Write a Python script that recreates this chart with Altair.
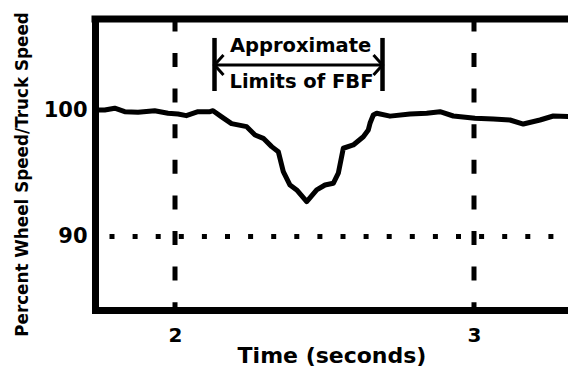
import altair as alt
import pandas as pd

# ---- data ----
time_s = [1.733, 1.7649, 1.7983, 1.8318, 1.8763, 1.9321, 1.9766, 2.0100, 2.0378, 2.0769,
          2.1171, 2.1271, 2.1548, 2.1890, 2.2398, 2.2676, 2.2953, 2.3234, 2.3455, 2.3622,
          2.3846, 2.4070, 2.4405, 2.4739, 2.5017, 2.5294, 2.5462, 2.5629, 2.5963, 2.6298,
          2.6465, 2.6522, 2.6632, 2.6746, 2.7191, 2.7860, 2.8418, 2.8863, 2.9308, 3.0033,
          3.0645, 3.1204, 3.1649, 3.2207, 3.2652, 3.341]
pct_speed = [100.08, 100.08, 100.22, 99.94, 99.90, 100.02, 99.82, 99.76, 99.63, 99.94,
             99.94, 100.02, 99.55, 98.99, 98.75, 98.09, 97.82, 97.16, 96.76, 95.16,
             94.10, 93.71, 92.77, 93.71, 94.10, 94.24, 95.04, 97.03, 97.29, 97.95,
             98.49, 99.02, 99.68, 99.82, 99.59, 99.76, 99.82, 99.94, 99.60, 99.42,
             99.36, 99.28, 98.96, 99.28, 99.60, 99.55]
x_ticks = [2, 3]
y_ticks = [90, 100]
vertical_marks = [2, 3]
threshold = [90]
fbf_limits = [2.1321, 2.694]
fbf_bar_range = [101.59, 105.82]
fbf_arrow_level = [103.67]
label_texts = ["Approximate", "Limits of FBF"]
label_x = [2.42, 2.423]
label_y = [104.70, 101.81]

X_DOMAIN = [1.7324, 3.3144]
Y_DOMAIN = [84.14, 107.33]
W, H = 473, 291
FONT = "DejaVu Sans"

xs = alt.Scale(domain=X_DOMAIN, nice=False, zero=False)
ys = alt.Scale(domain=Y_DOMAIN, nice=False, zero=False)

x_axis = alt.Axis(
    values=x_ticks, title="Time (seconds)", ticks=False, tickSize=0, grid=False,
    labelFontSize=20, labelPadding=31, labelBaseline="alphabetic",
    titleFontSize=22, titleY=52, titleBaseline="alphabetic",
    domainWidth=7, domainCap="square", format="d")
y_axis = alt.Axis(
    values=y_ticks, title="Percent Wheel Speed/Truck Speed", ticks=False, tickSize=0,
    grid=False, labelFontSize=21, labelPadding=8,
    titleFontSize=16.8, titleX=-68, titleY=155, titleAngle=-90,
    titleAlign="center", titleBaseline="alphabetic",
    domainWidth=7, domainCap="square", format="d")


def X(field="t"):
    return alt.X(f"{field}:Q", scale=xs, axis=x_axis)


def Y(field="v"):
    return alt.Y(f"{field}:Q", scale=ys, axis=y_axis)


curve_df = pd.DataFrame({"t": time_s, "v": pct_speed})
curve = alt.Chart(curve_df).mark_line(
    color="black", strokeWidth=5, strokeJoin="round", strokeCap="round", clip=True
).encode(x=X(), y=Y())

vdf = pd.DataFrame({"t": vertical_marks})
vlines = alt.Chart(vdf).mark_rule(
    color="black", strokeWidth=5, strokeDash=[14, 21.6], strokeDashOffset=1.6
).encode(x=X(), y=alt.value(0), y2=alt.value(H))

hdf = pd.DataFrame({"v": threshold})
hline = alt.Chart(hdf).mark_rule(
    color="black", strokeWidth=5, strokeDash=[5, 18.1], strokeDashOffset=8.6
).encode(y=Y(), x=alt.value(0), x2=alt.value(W))

top_border = alt.Chart(pd.DataFrame({"a": [0]})).mark_rule(
    color="black", strokeWidth=7, strokeCap="square"
).encode(x=alt.value(0), x2=alt.value(W), y=alt.value(0))

bars_df = pd.DataFrame({"t": fbf_limits,
                        "v": [fbf_bar_range[0]] * 2, "v2": [fbf_bar_range[1]] * 2})
bars = alt.Chart(bars_df).mark_rule(color="black", strokeWidth=4.5).encode(
    x=X(), y=Y(), y2="v2:Q")

arrow_df = pd.DataFrame({"t": [fbf_limits[0]], "t2": [fbf_limits[1]], "v": fbf_arrow_level})
arrow = alt.Chart(arrow_df).mark_rule(color="black", strokeWidth=3).encode(
    x=X(), x2="t2:Q", y=Y())

head_l = alt.Chart(pd.DataFrame({"t": [fbf_limits[0]], "v": fbf_arrow_level})).mark_point(
    shape="M0.9,-1L0,0L0.9,1", size=400, filled=False, strokeWidth=3, color="black", opacity=1
).encode(x=X(), y=Y())
head_r = alt.Chart(pd.DataFrame({"t": [fbf_limits[1]], "v": fbf_arrow_level})).mark_point(
    shape="M-0.9,-1L0,0L-0.9,1", size=400, filled=False, strokeWidth=3, color="black", opacity=1
).encode(x=X(), y=Y())

txt_df = pd.DataFrame({"t": label_x, "v": label_y, "label": label_texts})
texts = alt.Chart(txt_df).mark_text(
    font=FONT, fontSize=19.5, fontWeight="bold", baseline="alphabetic", align="center",
    color="black"
).encode(x=X(), y=Y(), text="label:N")

chart = alt.layer(
    curve, hline, vlines, top_border, bars, arrow, head_l, head_r, texts
).properties(
    width=W, height=H, autosize="none",
    padding={"left": 87, "top": 11, "right": 0, "bottom": 57},
    background="white",
).configure_view(stroke=None).configure_axis(
    labelFont=FONT, titleFont=FONT, labelFontWeight="bold", titleFontWeight="bold",
    labelColor="black", titleColor="black", domainColor="black",
)

chart.save("out.html", embed_options={"renderer": "svg", "actions": False})
